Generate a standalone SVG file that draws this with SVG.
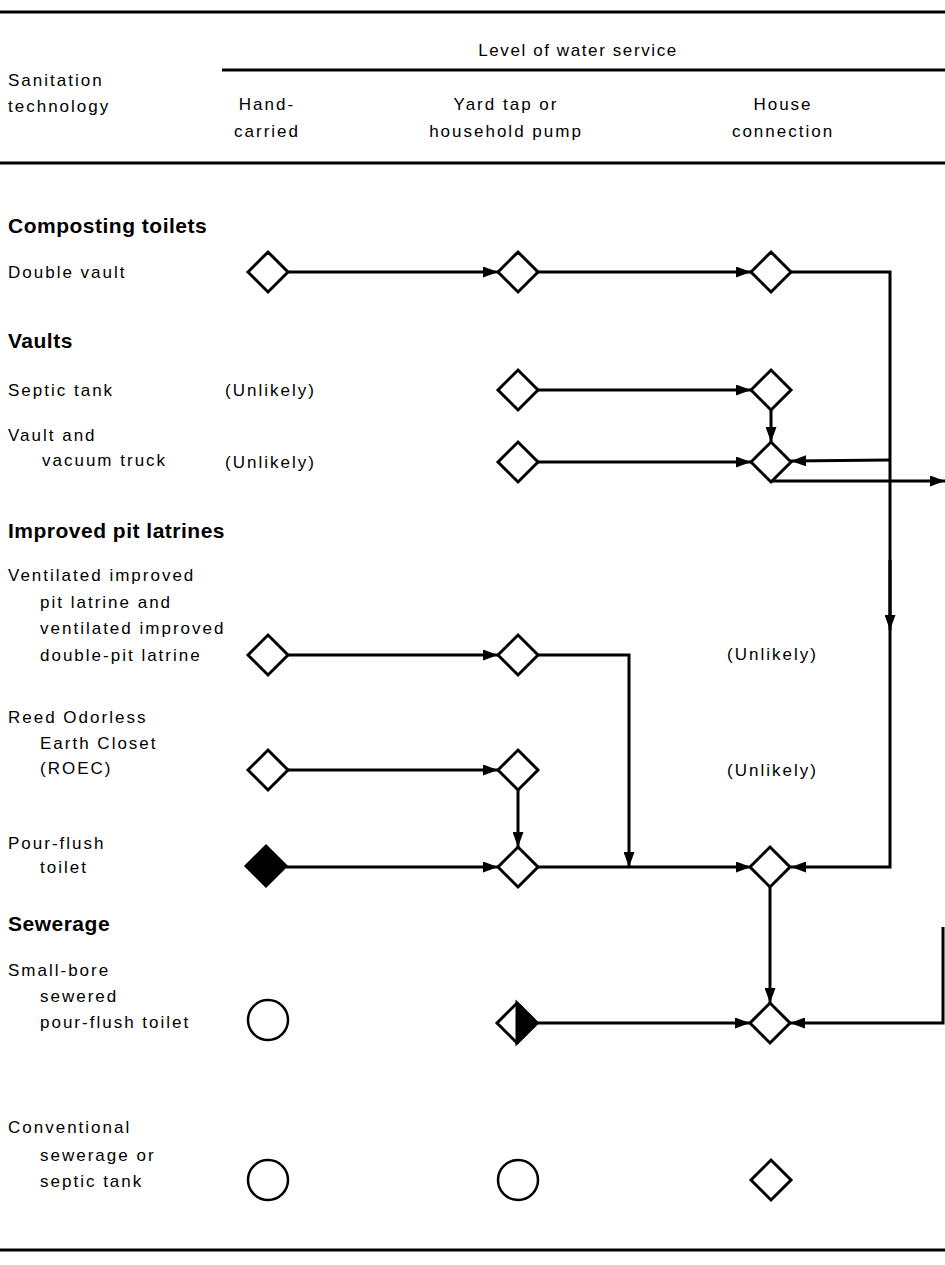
<svg xmlns="http://www.w3.org/2000/svg" width="945" height="1265" viewBox="0 0 945 1265">
<style>
text{font-family:"Liberation Sans",Arial,sans-serif;font-size:17px;fill:#000;letter-spacing:2px}
.h{font-size:21px;font-weight:bold;letter-spacing:0.5px}
.c{text-anchor:middle}
.rule{stroke:#000;stroke-width:3;fill:none}
.con{stroke:#000;stroke-width:3;fill:none}
.d{fill:#fff;stroke:#000;stroke-width:3;stroke-linejoin:miter}
.f{fill:#000;stroke:#000;stroke-width:3}
.o{fill:#fff;stroke:#000;stroke-width:2.5}
</style>
<defs>
<marker id="a" markerUnits="userSpaceOnUse" markerWidth="15" markerHeight="11" refX="15" refY="5.5" orient="auto">
<path d="M0,0 L15,5.5 L0,11 z" fill="#000"/>
</marker>
<path id="dm" d="M-20,0 L0,-20 L20,0 L0,20 z"/>
</defs>
<rect width="945" height="1265" fill="#fff"/>

<g id="header">
<line class="rule" x1="0" y1="12" x2="945" y2="12"/>
<text class="c" x="578" y="56" style="letter-spacing:1.6px">Level of water service</text>
<line class="rule" x1="222" y1="70" x2="945" y2="70"/>
<text x="8" y="86">Sanitation</text>
<text x="8" y="112">technology</text>
<text class="c" x="267" y="110">Hand-</text>
<text class="c" x="267" y="137">carried</text>
<text class="c" x="506" y="110">Yard tap or</text>
<text class="c" x="506" y="137">household pump</text>
<text class="c" x="783" y="110">House</text>
<text class="c" x="783" y="137">connection</text>
<line class="rule" x1="0" y1="163" x2="945" y2="163"/>
<line class="rule" x1="0" y1="1250" x2="945" y2="1250"/>
</g>

<g id="labels">
<text class="h" x="8" y="233">Composting toilets</text>
<text x="8" y="278">Double vault</text>
<text class="h" x="8" y="348">Vaults</text>
<text x="8" y="396">Septic tank</text>
<text x="225" y="396">(Unlikely)</text>
<text x="8" y="441">Vault and</text>
<text x="42" y="466">vacuum truck</text>
<text x="225" y="468">(Unlikely)</text>
<text class="h" x="8" y="538">Improved pit latrines</text>
<text x="8" y="581">Ventilated improved</text>
<text x="40" y="608">pit latrine and</text>
<text x="40" y="634">ventilated improved</text>
<text x="40" y="661">double-pit latrine</text>
<text x="727" y="660">(Unlikely)</text>
<text x="8" y="723">Reed Odorless</text>
<text x="40" y="749">Earth Closet</text>
<text x="40" y="774">(ROEC)</text>
<text x="727" y="776">(Unlikely)</text>
<text x="8" y="849">Pour-flush</text>
<text x="40" y="873">toilet</text>
<text class="h" x="8" y="931">Sewerage</text>
<text x="8" y="976">Small-bore</text>
<text x="40" y="1002">sewered</text>
<text x="40" y="1028">pour-flush toilet</text>
<text x="8" y="1133">Conventional</text>
<text x="40" y="1161">sewerage or</text>
<text x="40" y="1187">septic tank</text>
</g>

<g id="connectors">
<line class="con" x1="288" y1="272" x2="498" y2="272" marker-end="url(#a)"/>
<line class="con" x1="538" y1="272" x2="751" y2="272" marker-end="url(#a)"/>
<polyline class="con" points="791,272 890,272 890,867 791,867" marker-end="url(#a)"/>
<line class="con" x1="890" y1="560" x2="890" y2="630" marker-end="url(#a)"/>
<line class="con" x1="538" y1="390" x2="751" y2="390" marker-end="url(#a)"/>
<line class="con" x1="771" y1="410" x2="771" y2="442" marker-end="url(#a)"/>
<line class="con" x1="538" y1="462" x2="751" y2="462" marker-end="url(#a)"/>
<line class="con" x1="890" y1="460" x2="791" y2="461" marker-end="url(#a)"/>
<line class="con" x1="771" y1="481" x2="945" y2="481" marker-end="url(#a)"/>
<line class="con" x1="288" y1="655" x2="498" y2="655" marker-end="url(#a)"/>
<polyline class="con" points="538,655 629,655 629,867" marker-end="url(#a)"/>
<line class="con" x1="288" y1="770" x2="498" y2="770" marker-end="url(#a)"/>
<line class="con" x1="518" y1="790" x2="518" y2="847" marker-end="url(#a)"/>
<line class="con" x1="286" y1="867" x2="498" y2="867" marker-end="url(#a)"/>
<line class="con" x1="538" y1="867" x2="751" y2="867" marker-end="url(#a)"/>
<line class="con" x1="770" y1="887" x2="770" y2="1003" marker-end="url(#a)"/>
<line class="con" x1="537" y1="1023" x2="750" y2="1023" marker-end="url(#a)"/>
<polyline class="con" points="943,927 943,1023 790,1023" marker-end="url(#a)"/>
</g>

<g id="n-dv-hand"><use href="#dm" class="d" x="268" y="272"/></g>
<g id="n-dv-yard"><use href="#dm" class="d" x="518" y="272"/></g>
<g id="n-dv-house"><use href="#dm" class="d" x="771" y="272"/></g>
<g id="n-st-yard"><use href="#dm" class="d" x="518" y="390"/></g>
<g id="n-st-house"><use href="#dm" class="d" x="771" y="390"/></g>
<g id="n-vv-yard"><use href="#dm" class="d" x="518" y="462"/></g>
<g id="n-vv-house"><use href="#dm" class="d" x="771" y="462"/></g>
<g id="n-vip-hand"><use href="#dm" class="d" x="268" y="655"/></g>
<g id="n-vip-yard"><use href="#dm" class="d" x="518" y="655"/></g>
<g id="n-roec-hand"><use href="#dm" class="d" x="268" y="770"/></g>
<g id="n-roec-yard"><use href="#dm" class="d" x="518" y="770"/></g>
<g id="n-pf-hand"><use href="#dm" class="f" x="266" y="866"/></g>
<g id="n-pf-yard"><use href="#dm" class="d" x="518" y="867"/></g>
<g id="n-pf-house"><use href="#dm" class="d" x="770" y="867"/></g>
<g id="n-sb-hand"><circle class="o" cx="268" cy="1020" r="20"/></g>
<g id="n-sb-yard">
<use href="#dm" class="d" x="517" y="1023"/>
<path d="M517,1003 L537,1023 L517,1043 z" fill="#000" stroke="#000" stroke-width="3"/>
</g>
<g id="n-sb-house"><use href="#dm" class="d" x="770" y="1023"/></g>
<g id="n-cs-hand"><circle class="o" cx="268" cy="1180" r="20"/></g>
<g id="n-cs-yard"><circle class="o" cx="518" cy="1180" r="20"/></g>
<g id="n-cs-house"><use href="#dm" class="d" x="771" y="1180"/></g>
</svg>
